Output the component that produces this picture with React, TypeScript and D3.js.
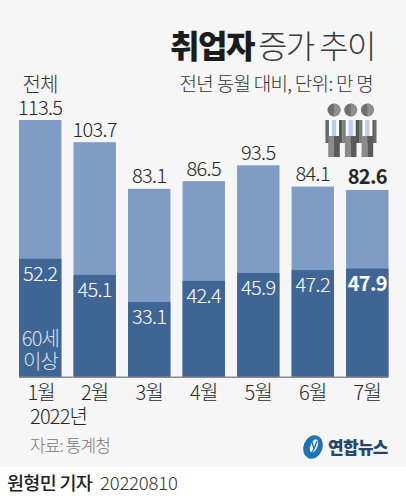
import React from "react";
import * as d3 from "d3";

const months = ["1월", "2월", "3월", "4월", "5월", "6월", "7월"];
const totalValues = [113.5, 103.7, 83.1, 86.5, 93.5, 84.1, 82.6];
const seniorValues = [52.2, 45.1, 33.1, 42.4, 45.9, 47.2, 47.9];

const FONT = "'Noto Sans CJK KR', 'Noto Sans', sans-serif";
const BASE = 377;
const x = d3.scaleBand<string>().domain(months).range([19, 388.5]).paddingInner(0.222).paddingOuter(0);
const y = d3.scaleLinear().domain([0, 113.5]).range([BASE, 120]);
const people = [0, 1, 2];

export default function App() {
  const text = (s: string, px: number, py: number, size: number, fill: string, anchor = "middle", weight = 300, ls = -0.5) => (
    <text x={px} y={py} fontSize={size} fill={fill} textAnchor={anchor as any} fontWeight={weight} letterSpacing={ls} fontFamily={FONT}>{s}</text>
  );
  return (
    <svg width={406} height={500} style={{ position: "absolute", left: 0, top: 0 }}>
      <rect width={406} height={500} fill="#ffffff" />
      <rect width={406} height={467} fill="#f6f6f6" />
      {text("취업자", 170, 58, 32, "#1c1c1c", "start", 900, -1.5)}
      {text("증가 추이", 258, 58, 32, "#3a3a3a", "start", 300, -1.6)}
      {text("전년 동월 대비, 단위: 만 명", 373, 91, 19, "#333333", "end", 300, -0.7)}
      {text("전체", 40, 92, 20, "#333333", "middle", 300, -0.8)}
      {people.map((i) => {
        const cx = 334 + i * 16.7;
        return (
          <g key={i}>
            <circle cx={cx} cy={110} r={6.5} fill="#6f6f6f" />
            <path d={`M${cx} 103.5a6.5 6.5 0 0 1 0 13z`} fill="#8f8f8f" />
            <rect x={cx - 8.35} y={120} width={8.35} height={23} fill="#7c7c7c" />
            <rect x={cx} y={120} width={8.35} height={23} fill="#565656" />
            <rect x={cx - 5} y={120} width={10} height={16} fill="#ffffff" />
            <rect x={cx - 2.2} y={120} width={4.4} height={16} fill="#bccde8" />
            <rect x={cx - 5.8} y={136} width={5.8} height={21} fill="#8a8a8a" />
            <rect x={cx} y={136} width={5.8} height={21} fill="#5a5a5a" />
          </g>
        );
      })}
      <rect x={325.6} y={120} width={3} height={23} fill="#6a6a6a" />
      <rect x={373.5} y={120} width={3} height={23} fill="#6a6a6a" />
      {months.map((m, i) => {
        const bx = x(m)!;
        const w = x.bandwidth();
        const cx = bx + w / 2;
        const last = i === months.length - 1;
        return (
          <g key={m}>
            <rect x={bx} y={y(totalValues[i])} width={w} height={BASE - y(totalValues[i])} fill="#7f9cc5" />
            <rect x={bx} y={y(seniorValues[i])} width={w} height={BASE - y(seniorValues[i])} fill="#3f6594" />
            {text(totalValues[i].toFixed(1), cx, y(totalValues[i]) - 5.5, 20, "#262626", "middle", last ? 700 : 300, -0.7)}
            {text(seniorValues[i].toFixed(1), cx, y(seniorValues[i]) + 22, 20, "#ffffff", "middle", last ? 700 : 300, -0.7)}
            {text(m, cx + (i === 0 ? 1 : 0), 400, 20, "#262626", "middle", 300, -0.8)}
          </g>
        );
      })}
      <rect x={19} y={376.5} width={369.5} height={1.5} fill="#8a8a8a" />
      {text("60세", 40.5, 346, 20, "#d9e3f1", "middle", 300, -0.8)}
      {text("이상", 40.5, 369, 20, "#d9e3f1", "middle", 300, -0.8)}
      {text("2022년", 30, 424, 20, "#262626", "start", 300, -0.8)}
      {text("자료: 통계청", 30, 452, 17, "#777777", "start", 300, -0.9)}
      <ellipse cx={313} cy={447} rx={9.5} ry={12} fill="#1f72b8" transform="rotate(22 313 447)" />
      <ellipse cx={314} cy={446} rx={3.5} ry={7} fill="#f6f6f6" transform="rotate(22 314 446)" />
      <path d="M312 442 L314 449 L311 454 M317 441 L314 449" stroke="#1f72b8" strokeWidth={1.4} fill="none" />
      {text("연합뉴스", 328, 454, 17, "#24466f", "start", 900, -0.7)}
      {text("원형민 기자", 7, 490, 18.5, "#222222", "start", 500, -0.7)}
      {text("20220810", 100, 490, 18.5, "#333333", "start", 300, -0.2)}
    </svg>
  );
}
